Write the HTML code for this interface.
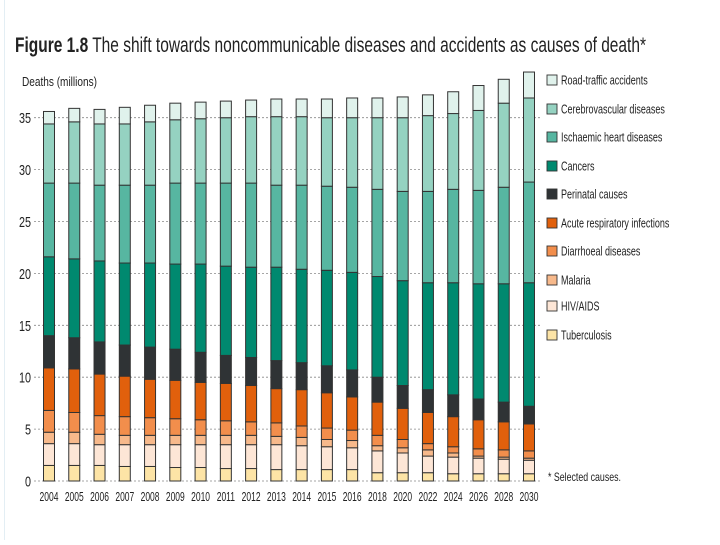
<!DOCTYPE html>
<html><head><meta charset="utf-8">
<style>
html,body{margin:0;padding:0;background:#fff;}
body{width:720px;height:540px;overflow:hidden;}
svg text{font-family:"Liberation Sans",sans-serif;fill:#222;}
</style></head>
<body>
<svg id="chart" width="720" height="540" viewBox="0 0 720 540" xmlns="http://www.w3.org/2000/svg">
  <rect x="4" y="0" width="1" height="540" fill="#e3eef4"/>
  <text x="15" y="52" font-size="21" textLength="631" lengthAdjust="spacingAndGlyphs"><tspan font-weight="bold">Figure 1.8</tspan> The shift towards noncommunicable diseases and accidents as causes of death*</text>
  <text x="22" y="86" font-size="12.5" textLength="75" lengthAdjust="spacingAndGlyphs">Deaths (millions)</text>
  <g id="grid"></g>
  <g id="bars"></g>
  <g id="legend"></g>
  <text x="548" y="481" font-size="12" textLength="73" lengthAdjust="spacingAndGlyphs">* Selected causes.</text>
</svg>
<script>
const years = ["2004","2005","2006","2007","2008","2009","2010","2011","2012","2013","2014","2015","2016","2018","2020","2022","2024","2026","2028","2030"];
const yTicks = [0,5,10,15,20,25,30,35];
// cumulative stacked tops (millions), bottom to top
const tbTop      = [1.5,1.5,1.5,1.4,1.4,1.3,1.3,1.2,1.2,1.1,1.1,1.1,1.1,0.8,0.8,0.8,0.7,0.7,0.7,0.7];
const hivTop     = [3.6,3.6,3.5,3.5,3.5,3.5,3.5,3.5,3.5,3.5,3.4,3.3,3.2,2.9,2.7,2.4,2.3,2.2,2.1,2.0];
const malariaTop = [4.7,4.7,4.5,4.4,4.4,4.4,4.4,4.4,4.4,4.3,4.2,4.0,3.9,3.4,3.2,3.0,2.7,2.4,2.3,2.2];
const diarrTop   = [6.8,6.6,6.3,6.2,6.1,6.0,5.9,5.8,5.7,5.6,5.3,5.1,4.9,4.4,4.0,3.6,3.3,3.1,3.0,2.9];
const ariTop     = [10.9,10.8,10.3,10.1,9.8,9.7,9.5,9.4,9.2,8.9,8.8,8.5,8.1,7.6,7.0,6.6,6.2,5.9,5.7,5.5];
const periTop    = [14.0,13.8,13.4,13.1,12.9,12.7,12.4,12.1,11.9,11.6,11.4,11.1,10.7,10.0,9.2,8.8,8.3,7.9,7.6,7.2];
const cancerTop  = [21.6,21.4,21.2,21.0,21.0,20.9,20.9,20.7,20.6,20.6,20.4,20.3,20.1,19.7,19.3,19.1,19.1,19.0,19.0,19.1];
const ihdTop     = [28.7,28.7,28.5,28.5,28.5,28.7,28.7,28.7,28.7,28.5,28.5,28.4,28.3,28.1,27.9,27.9,28.1,28.0,28.3,28.8];
const cerebroTop = [34.4,34.6,34.4,34.4,34.6,34.8,34.9,35.0,35.1,35.1,35.1,35.0,35.0,35.0,35.0,35.2,35.4,35.7,36.4,36.9];
const roadTop    = [35.6,35.9,35.8,36.0,36.2,36.4,36.5,36.6,36.7,36.8,36.8,36.8,36.9,36.9,37.0,37.2,37.5,38.1,38.7,39.4];
const seriesNames = ["Tuberculosis","HIV/AIDS","Malaria","Diarrhoeal diseases","Acute respiratory infections","Perinatal causes","Cancers","Ischaemic heart diseases","Cerebrovascular diseases","Road-traffic accidents"];
const seriesTops = [tbTop,hivTop,malariaTop,diarrTop,ariTop,periTop,cancerTop,ihdTop,cerebroTop,roadTop];
const colors = ["#fde4a6","#fde6d6","#f7b98b","#f28e4c","#e1600c","#2f3335","#00896f","#57b6a1","#95d2c1","#e0f2ec"];
const keys = ["tuberculosis","hiv-aids","malaria","diarrhoeal","respiratory","perinatal","cancers","ischaemic-heart","cerebrovascular","road-traffic"];

const NS="http://www.w3.org/2000/svg";
const y0=481, yScale=(481-117.7)/35;
function yPos(v){return y0 - v*yScale;}
const x0=49, xStep=(529-49)/19, barW=11;
function xPos(i){return x0 + i*xStep;}
function mk(tag,attrs,parent){const e=document.createElementNS(NS,tag);for(const k in attrs)e.setAttribute(k,attrs[k]);parent.appendChild(e);return e;}

const grid=document.getElementById('grid');
yTicks.forEach(t=>{
  const y=yPos(t);
  const l=mk('line',{x1:34,x2:540,y1:y,y2:y,stroke:'#888','stroke-width':0.8,'stroke-dasharray':'2,2'},grid);
  
  
  const tx=mk('text',{'font-size':15,'text-anchor':'end',transform:'translate(31,'+(y+5.5)+') scale(0.72,1)'},grid);
  tx.textContent=t;
  
  
});

const bars=document.getElementById('bars');
years.forEach((yr,i)=>{
  const cx=xPos(i);
  let prev=0;
  seriesTops.forEach((arr,s)=>{
    const top=arr[i];
    const r=mk('rect',{x:cx-barW/2,y:yPos(top),width:barW,height:Math.max(0,yPos(prev)-yPos(top)),fill:colors[s],stroke:'#333','stroke-width':1},bars);
    
    
    prev=top;
  });
  const t=mk('text',{'font-size':12.5,'text-anchor':'middle',transform:'translate('+cx+',501) scale(0.68,1)'},bars);
  t.textContent=yr;
  
  
});

const legend=document.getElementById('legend');
const legY=[80,109,137,166,194,223,251,280,306,335];
for(let k=0;k<10;k++){
  const s=9-k;
  const g=mk('g',{},legend);
  
  
  mk('rect',{x:547,y:legY[k]-5,width:10,height:10,fill:colors[s],stroke:'#333','stroke-width':0.9},g);
  const t=mk('text',{'font-size':12.5,transform:'translate(561,'+(legY[k]+4.5)+') scale(0.72,1)'},g);
  t.textContent=seriesNames[s];
}
</script>
</body></html>
